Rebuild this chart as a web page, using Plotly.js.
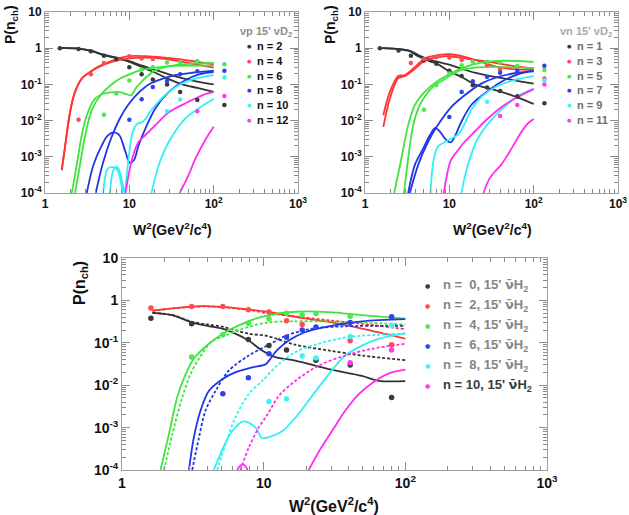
<!DOCTYPE html>
<html>
<head>
<meta charset="utf-8">
<script src="https://cdn.plot.ly/plotly-3.0.1.min.js"></script>
<style>
  html, body { margin: 0; padding: 0; background: #fff; }
  #chart { width: 629px; height: 515px; }
</style>
</head>
<body>
<div id="chart"></div>
<script>
// Charged-multiplicity probabilities P(n_ch) versus W^2, three samples.

// ---------- shared tick labels ----------
const xTickVals = [1, 10, 100, 1000];
const xTickText = ['1', '10', '10<sup>2</sup>', '10<sup>3</sup>'];
const yTickVals = [1e-4, 1e-3, 1e-2, 1e-1, 1, 10];
const yTickText = ['10<sup>-4</sup>', '10<sup>-3</sup>', '10<sup>-2</sup>', '10<sup>-1</sup>', '1', '10'];

// ---------- panel 1: νp 15' νD2 (even n) ----------
const p1Labels = ['n = 2', 'n = 4', 'n = 6', 'n = 8', 'n = 10', 'n = 12'];
// measured points
const p1n2W = [1.5, 2.5, 3.5, 5, 7, 10, 14, 19, 28, 40, 64, 134];
const p1n2P = [1.0, 0.95, 0.82, 0.62, 0.5, 0.3, 0.19, 0.136, 0.1, 0.062, 0.037, 0.027];
const p1n4W = [2.5, 3.5, 5, 10, 14, 19];
const p1n4P = [0.0105, 0.19, 0.39, 0.6, 0.52, 0.5];
const p1n6W = [5, 7, 10, 14, 19, 28, 40, 64, 134];
const p1n6P = [0.0145, 0.056, 0.128, 0.26, 0.3, 0.4, 0.4, 0.44, 0.36];
const p1n8W = [10, 14, 19, 28, 40, 64, 134];
const p1n8P = [0.0105, 0.039, 0.085, 0.125, 0.19, 0.23, 0.24];
const p1n10W = [28, 40, 134];
const p1n10P = [0.018, 0.038, 0.155];
const p1n12W = [64, 134];
const p1n12P = [0.018, 0.048];
// model curves (two variants per n)
const p1c2aW = [1.5, 2.5, 3.6, 5, 7.1, 10, 14.2, 20.4, 29.4, 42.4, 64, 100];
const p1c2aP = [1.02, 0.97, 0.83, 0.64, 0.53, 0.42, 0.3, 0.21, 0.14, 0.1, 0.08, 0.062];
const p1c2bW = [1.5, 2.5, 3.6, 5, 7.1, 10, 14.2, 20.4, 29.4, 42.4, 64, 100];
const p1c2bP = [1.02, 0.97, 0.84, 0.66, 0.55, 0.44, 0.33, 0.25, 0.19, 0.15, 0.12, 0.1];
const p1c4aW = [1.58, 1.76, 1.98, 2.27, 2.73, 3.43, 4.3, 6.2, 10, 15.5, 24.5, 38.6, 64, 100];
const p1c4aP = [4.3e-4, 0.0026, 0.017, 0.062, 0.145, 0.22, 0.3, 0.42, 0.52, 0.55, 0.52, 0.44, 0.35, 0.29];
const p1c4bW = [1.58, 1.76, 1.98, 2.27, 2.73, 3.43, 4.3, 6.2, 10, 15.5, 24.5, 38.6, 64, 100];
const p1c4bP = [4.3e-4, 0.0026, 0.017, 0.062, 0.145, 0.22, 0.31, 0.45, 0.6, 0.6, 0.56, 0.5, 0.42, 0.36];
const p1c6aW = [2.08, 2.38, 2.73, 3.13, 3.9, 4.95, 6, 7.5, 9, 10.5, 12, 14, 20, 30, 50, 100];
const p1c6aP = [1e-4, 6e-4, 0.004, 0.014, 0.04, 0.056, 0.06, 0.062, 0.055, 0.05, 0.08, 0.12, 0.24, 0.32, 0.37, 0.39];
const p1c6bW = [2.27, 2.6, 3.0, 3.6, 4.7, 6, 7.8, 10, 14, 20, 30, 50, 100];
const p1c6bP = [1e-4, 6e-4, 0.004, 0.02, 0.055, 0.095, 0.145, 0.19, 0.25, 0.29, 0.32, 0.33, 0.33];
const p1c8aW = [3.13, 3.76, 4.73, 5.5, 6.5, 7.3, 7.8, 8.97, 10.1, 11.3, 12.9, 15.5, 20.4, 29.4, 46, 67, 100];
const p1c8aP = [1e-4, 6e-4, 0.0021, 0.0038, 0.0047, 0.0043, 0.0036, 0.0014, 6.8e-4, 8e-4, 0.0021, 0.006, 0.022, 0.062, 0.13, 0.19, 0.22];
const p1c8bW = [4.0, 4.8, 6, 7.8, 10, 13, 17, 24, 35, 55, 100];
const p1c8bP = [1e-4, 6e-4, 0.003, 0.012, 0.03, 0.06, 0.1, 0.14, 0.18, 0.21, 0.24];
const p1c10aW = [4.9, 5.2, 5.6, 6.2, 6.8, 7.5, 8.0, 8.4];
const p1c10aP = [1e-4, 3e-4, 4.8e-4, 5.2e-4, 5e-4, 3.5e-4, 1.8e-4, 1e-4];
const p1c10bW = [5.9, 6.3, 6.8, 7.3, 7.8, 8.3, 8.8];
const p1c10bP = [1e-4, 3.5e-4, 5.2e-4, 5e-4, 3.5e-4, 1.8e-4, 1e-4];
const p1c10cW = [8.9, 9.8, 11, 12.3, 14, 15.5, 17.5, 20.4, 29.4, 46, 73, 100];
const p1c10cP = [1e-4, 9e-4, 0.005, 0.008, 0.009, 0.011, 0.017, 0.027, 0.062, 0.117, 0.16, 0.18];
const p1c10dW = [18.3, 22.4, 29.4, 46, 67, 100];
const p1c10dP = [1e-4, 6e-4, 0.0026, 0.0114, 0.022, 0.04];
const p1c12aW = [9, 10, 10.8, 12.9, 15.5, 20.4, 29.4, 46, 73, 100];
const p1c12aP = [1e-4, 4e-4, 9e-4, 0.0026, 0.004, 0.0075, 0.017, 0.03, 0.05, 0.062];
const p1c12bW = [39.6, 50, 61, 80, 100];
const p1c12bP = [1e-4, 3e-4, 9e-4, 0.003, 0.0068];

// ---------- panel 2: νn 15' νD2 (odd n) ----------
const p2Labels = ['n = 1', 'n = 3', 'n = 5', 'n = 7', 'n = 9', 'n = 11'];
const p2n1W = [1.5, 2.5, 3.5, 5, 7, 10, 14, 19, 28, 40, 64, 134];
const p2n1P = [1.0, 0.87, 0.62, 0.46, 0.37, 0.237, 0.17, 0.095, 0.082, 0.066, 0.047, 0.03];
const p2n3W = [3.5, 5, 7, 10, 14, 19, 28, 40, 64, 134];
const p2n3P = [0.39, 0.5, 0.57, 0.55, 0.47, 0.44, 0.34, 0.26, 0.25, 0.145];
const p2n5W = [5, 7, 10, 14, 19, 28, 40, 64, 134];
const p2n5P = [0.02, 0.095, 0.2, 0.34, 0.42, 0.42, 0.4, 0.32, 0.25];
const p2n7W = [10, 14, 19, 28, 40, 64, 134];
const p2n7P = [0.0125, 0.062, 0.123, 0.16, 0.21, 0.24, 0.325];
const p2n9W = [28, 134];
const p2n9P = [0.033, 0.13];
const p2n11W = [40, 64, 134];
const p2n11P = [0.0135, 0.027, 0.1];
const p2c1aW = [1.6, 2.57, 3.4, 4.27, 6.1, 7, 10, 14, 20, 31, 49, 71, 100];
const p2c1aP = [1.0, 0.94, 0.83, 0.6, 0.42, 0.38, 0.23, 0.16, 0.1, 0.075, 0.055, 0.04, 0.029];
const p2c1bW = [1.6, 2.57, 3.4, 4.27, 6.1, 7, 10, 14, 20, 31, 49, 71, 100];
const p2c1bP = [1.0, 0.94, 0.85, 0.65, 0.47, 0.43, 0.35, 0.27, 0.21, 0.17, 0.14, 0.12, 0.105];
const p2c3aW = [1.65, 1.97, 2.48, 2.97, 3.9, 5.1, 7.3, 10, 15.2, 23.9, 37.6, 65, 100];
const p2c3aP = [0.014, 0.062, 0.17, 0.18, 0.3, 0.52, 0.64, 0.68, 0.58, 0.42, 0.3, 0.26, 0.25];
const p2c3bW = [1.65, 1.97, 2.48, 2.97, 3.9, 5.1, 7.3, 10, 15.2, 23.9, 37.6, 65, 100];
const p2c3bP = [0.0067, 0.04, 0.15, 0.17, 0.27, 0.45, 0.56, 0.6, 0.52, 0.45, 0.38, 0.31, 0.28];
const p2c5aW = [2.22, 2.7, 3.25, 3.9, 5.1, 7, 10, 15.2, 23.9, 45, 100];
const p2c5aP = [1e-4, 9e-4, 0.0075, 0.027, 0.062, 0.117, 0.19, 0.3, 0.4, 0.45, 0.42];
const p2c5bW = [2.9, 3.25, 3.73, 4.47, 6.1, 8.8, 13.9, 23.9, 45, 100];
const p2c5bP = [1e-4, 9e-4, 0.0075, 0.027, 0.077, 0.14, 0.25, 0.3, 0.3, 0.28];
const p2c7aW = [3.25, 3.9, 4.9, 5.9, 6.8, 7.7, 9.2, 10.4, 11.6, 13.9, 18.2, 26.2, 41, 65, 100];
const p2c7aP = [1e-4, 6e-4, 0.0017, 0.004, 0.0063, 0.005, 0.0029, 0.0025, 0.0036, 0.0093, 0.027, 0.056, 0.117, 0.19, 0.24];
const p2c7bW = [3.4, 4.27, 5.6, 7.3, 10.6, 15.2, 23.9, 37.6, 65, 100];
const p2c7bP = [1e-4, 6e-4, 0.0026, 0.0075, 0.024, 0.05, 0.105, 0.16, 0.21, 0.23];
const p2c9aW = [5.97, 6.5, 7.3, 9.8, 13, 15.5, 18, 24, 37, 65, 100];
const p2c9aP = [1e-4, 8e-4, 0.0019, 0.0029, 0.0044, 0.009, 0.019, 0.045, 0.09, 0.14, 0.17];
const p2c9bW = [13.9, 16.6, 21.8, 31.3, 45, 65, 100];
const p2c9bP = [1e-4, 6e-4, 0.0032, 0.0103, 0.024, 0.048, 0.077];
const p2c11aW = [8.6, 9.2, 10.4, 12.6, 15.2, 20, 28.6, 45, 71, 100];
const p2c11aP = [1e-4, 2.5e-4, 8e-4, 0.0015, 0.0026, 0.005, 0.0114, 0.027, 0.05, 0.074];
const p2c11bW = [25.4, 29.9, 35, 41, 50, 59, 72, 85, 100];
const p2c11bP = [1e-4, 2.5e-4, 4e-4, 6e-4, 0.0012, 0.0023, 0.005, 0.0083, 0.011];

// ---------- panel 3: 15' ν̄H2 (solid and dashed models) ----------
const nuBar = '<span style="font-family:DejaVu Sans">\u03bd\u0304</span>';
const p3Labels = ['n =\u00a0\u00a00, 15\' ' + nuBar + 'H<sub>2</sub>', 'n =\u00a0\u00a02, 15\' ' + nuBar + 'H<sub>2</sub>',
                  'n =\u00a0\u00a04, 15\' ' + nuBar + 'H<sub>2</sub>', 'n =\u00a0\u00a06, 15\' ' + nuBar + 'H<sub>2</sub>',
                  'n =\u00a0\u00a08, 15\' ' + nuBar + 'H<sub>2</sub>', 'n = 10, 15\' ' + nuBar + 'H<sub>2</sub>'];
const p3n0W = [1.6, 3.1, 7.8, 10.9, 14.5, 23.4, 40.8, 80];
const p3n0P = [0.38, 0.28, 0.12, 0.086, 0.068, 0.039, 0.03, 0.0051];
const p3n2W = [1.6, 3.1, 5.15, 7.8, 10.9, 14.5, 18.7, 40.8, 80];
const p3n2P = [0.66, 0.72, 0.72, 0.6, 0.53, 0.33, 0.27, 0.112, 0.09];
const p3n4W = [3.1, 5.15, 7.8, 10.9, 14.5, 18.7, 23.4, 40.8];
const p3n4P = [0.046, 0.155, 0.29, 0.37, 0.5, 0.46, 0.49, 0.42];
const p3n6W = [5.15, 7.8, 10.9, 14.5, 18.7, 23.4, 40.8, 80];
const p3n6P = [0.0063, 0.015, 0.055, 0.135, 0.2, 0.235, 0.3, 0.41];
const p3n8W = [10.9, 14.5, 18.7, 23.4, 40.8, 80];
const p3n8P = [0.0041, 0.0048, 0.049, 0.044, 0.14, 0.26];
const p3n10W = [40.8, 80];
const p3n10P = [0.034, 0.068];
const p3s0W = [1.64, 2.26, 3.15, 4.0, 5.1, 6.3, 7.83, 9.74, 12.1, 16.7, 28.8, 49.4, 64.7, 100];
const p3s0P = [0.51, 0.45, 0.3, 0.25, 0.215, 0.164, 0.113, 0.066, 0.046, 0.038, 0.024, 0.0166, 0.0127, 0.0125];
const p3d0W = [1.64, 2.26, 3.15, 4.0, 5.1, 7.8, 10.6, 16.7, 28.8, 49.4, 100];
const p3d0P = [0.51, 0.45, 0.31, 0.27, 0.24, 0.164, 0.145, 0.09, 0.066, 0.05, 0.039];
const p3s2W = [1.64, 2.26, 3.68, 5.1, 7.77, 10.6, 16.7, 28.8, 49.4, 100];
const p3s2P = [0.57, 0.645, 0.73, 0.7, 0.61, 0.54, 0.41, 0.31, 0.215, 0.125];
const p3d2W = [1.64, 2.26, 3.68, 5.1, 7.77, 10.6, 16.7, 28.8, 49.4, 100];
const p3d2P = [0.57, 0.645, 0.72, 0.69, 0.6, 0.5, 0.42, 0.34, 0.28, 0.21];
const p3s4W = [1.87, 2.14, 2.45, 2.81, 3.21, 4.1, 5.15, 6.68, 8.76, 10.6, 16.7, 28.8, 49.4, 100];
const p3s4P = [1e-4, 6.8e-4, 0.0051, 0.018, 0.042, 0.095, 0.164, 0.258, 0.37, 0.44, 0.54, 0.53, 0.45, 0.37];
const p3d4W = [1.98, 2.26, 2.66, 3.04, 3.49, 4.33, 5.15, 6.68, 10.6, 16.7, 28.8, 49.4, 100];
const p3d4P = [1e-4, 6.8e-4, 0.0051, 0.018, 0.042, 0.11, 0.14, 0.2, 0.3, 0.32, 0.32, 0.3, 0.27];
const p3s6W = [2.97, 3.21, 3.58, 4.1, 5.1, 6.3, 8.3, 10.3, 10.9, 12.4, 15, 19.7, 28.8, 49.4, 100];
const p3s6P = [1e-4, 5.7e-4, 0.0025, 0.0073, 0.0139, 0.02, 0.0263, 0.031, 0.038, 0.066, 0.113, 0.18, 0.245, 0.32, 0.36];
const p3d6W = [3.13, 3.49, 3.88, 4.57, 5.67, 7.83, 10.6, 14.6, 22, 37.6, 100];
const p3d6P = [1e-4, 5.7e-4, 0.0025, 0.0073, 0.022, 0.05, 0.086, 0.15, 0.215, 0.245, 0.25];
const p3s8W = [4.45, 5.1, 5.98, 7.2, 8.76, 9.7, 10.9, 13.5, 16.7, 22, 28.8, 37.6, 49.4, 64.7, 100];
const p3s8P = [1e-4, 3e-4, 8.2e-4, 0.0014, 0.001, 5.7e-4, 6e-4, 8.2e-4, 0.0017, 0.0056, 0.018, 0.05, 0.086, 0.124, 0.17];
const p3d8W = [4.7, 5.37, 6.3, 7.83, 9.74, 12.8, 16.7, 24.5, 39.7, 100];
const p3d8P = [1e-4, 4e-4, 0.0017, 0.0061, 0.0126, 0.0316, 0.06, 0.095, 0.137, 0.164];
const p3s10W = [20.8, 24.5, 30.3, 37.6, 46.8, 61.2, 80, 100];
const p3s10P = [1e-4, 2.7e-4, 8.2e-4, 0.0025, 0.0061, 0.0126, 0.02, 0.023];
const p3s10archW = [6.5, 6.8, 7.1, 7.4, 7.7];
const p3s10archP = [1e-4, 1.25e-4, 1.35e-4, 1.25e-4, 1e-4];
const p3d10W = [6.85, 7.83, 9.22, 10.6, 12.8, 16.7, 24.5, 37.6, 58, 100];
const p3d10P = [1e-4, 3.3e-4, 0.001, 0.002, 0.0056, 0.0126, 0.029, 0.05, 0.072, 0.095];

// ---------- styling ----------
const COL = { k: '#333333', r: '#ff3535', g: '#3fe43f', b: '#1f35e6', c: '#2ff0f6', m: '#ff2cf0' };
const DOT = { k: '#3a3a3a', r: '#ff4d4d', g: '#4ce84c', b: '#2a44ee', c: '#3ff2f8', m: '#ff3cf2' };
const FONT = 'Liberation Sans, Arial, Helvetica, sans-serif';
const PW = 629, PH = 515;

const traces = [];
function curve(ax, W, P, c, dash) {
  traces.push({ x: W, y: P, xaxis: ax.x, yaxis: ax.y, type: 'scatter', mode: 'lines',
    line: { color: COL[c], width: 1.8, dash: dash || 'solid', shape: 'spline', smoothing: 0.9 },
    showlegend: false, hoverinfo: 'skip' });
}
function points(ax, W, P, c, size) {
  traces.push({ x: W, y: P, xaxis: ax.x, yaxis: ax.y, type: 'scatter', mode: 'markers',
    marker: { color: DOT[c], size: size || 4.5 }, showlegend: false, cliponaxis: false });
}

const A1 = { x: 'x', y: 'y' }, A2 = { x: 'x2', y: 'y2' }, A3 = { x: 'x3', y: 'y3' };
const DASH = '3px,2px';

// panel 1
curve(A1, p1c2aW, p1c2aP, 'k'); curve(A1, p1c2bW, p1c2bP, 'k');
curve(A1, p1c4aW, p1c4aP, 'r'); curve(A1, p1c4bW, p1c4bP, 'r');
curve(A1, p1c6aW, p1c6aP, 'g'); curve(A1, p1c6bW, p1c6bP, 'g');
curve(A1, p1c8aW, p1c8aP, 'b'); curve(A1, p1c8bW, p1c8bP, 'b');
curve(A1, p1c10aW, p1c10aP, 'c'); curve(A1, p1c10bW, p1c10bP, 'c');
curve(A1, p1c10cW, p1c10cP, 'c'); curve(A1, p1c10dW, p1c10dP, 'c');
curve(A1, p1c12aW, p1c12aP, 'm'); curve(A1, p1c12bW, p1c12bP, 'm');
points(A1, p1n2W, p1n2P, 'k'); points(A1, p1n4W, p1n4P, 'r'); points(A1, p1n6W, p1n6P, 'g');
points(A1, p1n8W, p1n8P, 'b'); points(A1, p1n10W, p1n10P, 'c'); points(A1, p1n12W, p1n12P, 'm');

// panel 2
curve(A2, p2c1aW, p2c1aP, 'k'); curve(A2, p2c1bW, p2c1bP, 'k');
curve(A2, p2c3aW, p2c3aP, 'r'); curve(A2, p2c3bW, p2c3bP, 'r');
curve(A2, p2c5aW, p2c5aP, 'g'); curve(A2, p2c5bW, p2c5bP, 'g');
curve(A2, p2c7aW, p2c7aP, 'b'); curve(A2, p2c7bW, p2c7bP, 'b');
curve(A2, p2c9aW, p2c9aP, 'c'); curve(A2, p2c9bW, p2c9bP, 'c');
curve(A2, p2c11aW, p2c11aP, 'm'); curve(A2, p2c11bW, p2c11bP, 'm');
points(A2, p2n1W, p2n1P, 'k'); points(A2, p2n3W, p2n3P, 'r'); points(A2, p2n5W, p2n5P, 'g');
points(A2, p2n7W, p2n7P, 'b'); points(A2, p2n9W, p2n9P, 'c'); points(A2, p2n11W, p2n11P, 'm');

// panel 3
curve(A3, p3s0W, p3s0P, 'k'); curve(A3, p3d0W, p3d0P, 'k', DASH);
curve(A3, p3s2W, p3s2P, 'r'); curve(A3, p3d2W, p3d2P, 'r', DASH);
curve(A3, p3s4W, p3s4P, 'g'); curve(A3, p3d4W, p3d4P, 'g', DASH);
curve(A3, p3s6W, p3s6P, 'b'); curve(A3, p3d6W, p3d6P, 'b', DASH);
curve(A3, p3s8W, p3s8P, 'c'); curve(A3, p3d8W, p3d8P, 'c', DASH);
curve(A3, p3s10W, p3s10P, 'm'); curve(A3, p3s10archW, p3s10archP, 'm'); curve(A3, p3d10W, p3d10P, 'm', DASH);
points(A3, p3n0W, p3n0P, 'k', 5.5); points(A3, p3n2W, p3n2P, 'r', 5.5); points(A3, p3n4W, p3n4P, 'g', 5.5);
points(A3, p3n6W, p3n6P, 'b', 5.5); points(A3, p3n8W, p3n8P, 'c', 5.5); points(A3, p3n10W, p3n10P, 'm', 5.5);

// ---------- axes ----------
function minorVals(lo, hi) {
  const v = [];
  for (let e = lo; e < hi; e++) for (let k = 2; k <= 9; k++) v.push(k * Math.pow(10, e));
  return v;
}
function xAxis(l, r, anchor, fs) {
  return { type: 'log', range: [0, 3], domain: [l / PW, r / PW], anchor: anchor,
    tickmode: 'array', tickvals: xTickVals, ticktext: xTickText,
    ticks: 'inside', ticklen: 8, tickwidth: 1, tickcolor: '#8a8a8a',
    minor: { tickmode: 'array', tickvals: minorVals(0, 3), ticks: 'inside', ticklen: 4, tickcolor: '#8a8a8a', showgrid: false },
    showline: true, linecolor: '#a0a0a0', linewidth: 1, mirror: 'allticks',
    showgrid: false, zeroline: false, fixedrange: true,
    tickfont: { family: FONT, size: fs, color: '#111', weight: 'bold' } };
}
function yAxis(top, bot, anchor, fs) {
  return { type: 'log', range: [-4, 1], domain: [1 - bot / PH, 1 - top / PH], anchor: anchor,
    tickmode: 'array', tickvals: yTickVals, ticktext: yTickText,
    ticks: 'inside', ticklen: 8, tickwidth: 1, tickcolor: '#8a8a8a',
    minor: { tickmode: 'array', tickvals: minorVals(-4, 1), ticks: 'inside', ticklen: 4, tickcolor: '#8a8a8a', showgrid: false },
    showline: true, linecolor: '#a0a0a0', linewidth: 1, mirror: 'allticks',
    showgrid: false, zeroline: false, fixedrange: true,
    tickfont: { family: FONT, size: fs, color: '#111', weight: 'bold' } };
}

// ---------- text: axis titles and legends ----------
const ann = [];
function txt(x, y, text, opt) {
  ann.push(Object.assign({ xref: 'paper', yref: 'paper', x: x / PW, y: 1 - y / PH, text: text,
    showarrow: false, xanchor: 'center', yanchor: 'middle',
    font: { family: FONT, size: 12, color: '#111', weight: 'bold' } }, opt || {}));
}
const xTitle = 'W<sup>2</sup>(GeV<sup>2</sup>/c<sup>4</sup>)';
const yTitle = 'P(n<sub>ch</sub>)';
txt(172, 229, xTitle, { font: { family: FONT, size: 14, color: '#111', weight: 'bold' } });
txt(492, 229, xTitle, { font: { family: FONT, size: 14, color: '#111', weight: 'bold' } });
txt(334, 505, xTitle, { font: { family: FONT, size: 16, color: '#111', weight: 'bold' } });
txt(11, 25, yTitle, { textangle: -90, font: { family: FONT, size: 14, color: '#111', weight: 'bold' } });
txt(331, 25, yTitle, { textangle: -90, font: { family: FONT, size: 14, color: '#111', weight: 'bold' } });
txt(80, 283, yTitle, { textangle: -90, font: { family: FONT, size: 16, color: '#111', weight: 'bold' } });

const keys = ['k', 'r', 'g', 'b', 'c', 'm'];
function legend(title, titleX, titleColor, labels, dotX, textX, y0, dy, fs, dotSize, colorFn) {
  if (title) txt(titleX, y0 - 14, title, { xanchor: 'right',
    font: { family: FONT, size: fs, color: titleColor, weight: 'bold' } });
  labels.forEach((lab, i) => {
    txt(dotX, y0 + dy * i, '\u25cf', { font: { family: 'DejaVu Sans', size: dotSize, color: DOT[keys[i]] } });
    txt(textX, y0 + dy * i, lab, { xanchor: 'left', font: { family: FONT, size: fs, color: colorFn(i), weight: 'bold' } });
  });
}
legend('\u03bdp 15\' \u03bdD<sub>2</sub>', 294, '#8c8c8c', p1Labels, 249, 255, 46, 14.8, 11, 5, () => '#111');
legend('\u03bdn 15\' \u03bdD<sub>2</sub>', 614, '#a8a8a8', p2Labels, 569, 575, 46, 14.8, 11, 5, () => '#6e6e6e');
legend(null, 0, '', p3Labels, 427, 441, 285, 20, 13, 6, i => (i === 5 ? '#3a3a3a' : '#858585'));

const layout = {
  width: PW, height: PH, margin: { l: 0, r: 0, t: 0, b: 0 },
  paper_bgcolor: '#ffffff', plot_bgcolor: '#ffffff', showlegend: false,
  xaxis: xAxis(45, 298, 'y', 12), yaxis: yAxis(12, 193, 'x', 12),
  xaxis2: xAxis(365, 618, 'y2', 12), yaxis2: yAxis(12, 193, 'x2', 12),
  xaxis3: xAxis(122, 547, 'y3', 14), yaxis3: yAxis(258, 470, 'x3', 14),
  annotations: ann
};

Plotly.newPlot('chart', traces, layout, { staticPlot: true, displayModeBar: false });
</script>
</body>
</html>
